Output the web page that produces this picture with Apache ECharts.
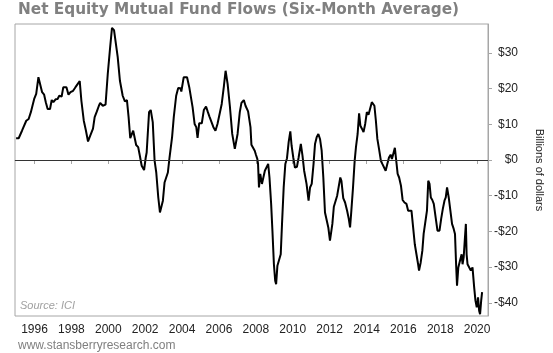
<!DOCTYPE html>
<html>
<head>
<meta charset="utf-8">
<script src="https://cdn.jsdelivr.net/npm/echarts@6/dist/echarts.min.js"></script>
<style>
  html, body { margin: 0; padding: 0; background: #fff; }
  #chart { width: 553px; height: 353px; }
</style>
</head>
<body>
<div id="chart"></div>
<script>
// six-month average of net equity mutual fund flows, billions of dollars
// x values are fractional years
var years = [
  1995.00, 1995.14, 1995.32, 1995.55, 1995.68, 1995.80, 1995.98, 1996.09, 1996.21, 1996.31,
  1996.41, 1996.52, 1996.61, 1996.71, 1996.84, 1996.93, 1997.02, 1997.14, 1997.25, 1997.34,
  1997.47, 1997.56, 1997.73, 1997.84, 1997.95, 1998.09, 1998.22, 1998.45, 1998.54, 1998.67,
  1998.78, 1998.90, 1999.02, 1999.17, 1999.26, 1999.38, 1999.49, 1999.56, 1999.70, 1999.85,
  1999.97, 2000.10, 2000.20, 2000.31, 2000.39, 2000.51, 2000.63, 2000.78, 2000.90, 2001.01,
  2001.10, 2001.19, 2001.28, 2001.35, 2001.44, 2001.51, 2001.62, 2001.71, 2001.81, 2001.94,
  2002.03, 2002.08, 2002.21, 2002.30, 2002.41, 2002.51, 2002.60, 2002.71, 2002.80, 2002.89,
  2002.96, 2003.05, 2003.14, 2003.23, 2003.32, 2003.41, 2003.46, 2003.55, 2003.68, 2003.79,
  2003.91, 2003.96, 2004.09, 2004.27, 2004.39, 2004.48, 2004.57, 2004.68, 2004.77, 2004.84,
  2004.93, 2005.07, 2005.18, 2005.30, 2005.40, 2005.49, 2005.57, 2005.70, 2005.81, 2005.92,
  2006.02, 2006.15, 2006.27, 2006.36, 2006.47, 2006.59, 2006.72, 2006.86, 2007.01, 2007.13,
  2007.22, 2007.35, 2007.44, 2007.58, 2007.71, 2007.76, 2007.85, 2007.94, 2008.01, 2008.08,
  2008.12, 2008.17, 2008.24, 2008.33, 2008.42, 2008.49, 2008.58, 2008.67, 2008.74, 2008.83,
  2008.90, 2008.98, 2009.05, 2009.10, 2009.17, 2009.26, 2009.35, 2009.42, 2009.51, 2009.60,
  2009.69, 2009.78, 2009.87, 2009.94, 2010.03, 2010.12, 2010.23, 2010.32, 2010.44, 2010.53,
  2010.62, 2010.75, 2010.86, 2010.94, 2011.03, 2011.13, 2011.21, 2011.30, 2011.39, 2011.48,
  2011.57, 2011.66, 2011.75, 2011.84, 2011.93, 2012.02, 2012.05, 2012.15, 2012.23, 2012.32,
  2012.41, 2012.50, 2012.58, 2012.64, 2012.74, 2012.84, 2012.95, 2013.04, 2013.11, 2013.18,
  2013.27, 2013.36, 2013.43, 2013.52, 2013.60, 2013.67, 2013.76, 2013.84, 2013.93, 2014.02,
  2014.11, 2014.20, 2014.29, 2014.38, 2014.43, 2014.51, 2014.59, 2014.68, 2014.78, 2014.86,
  2014.95, 2015.04, 2015.13, 2015.22, 2015.31, 2015.38, 2015.47, 2015.54, 2015.61, 2015.69,
  2015.77, 2015.87, 2015.96, 2016.06, 2016.17, 2016.26, 2016.35, 2016.44, 2016.53, 2016.62,
  2016.71, 2016.80, 2016.85, 2016.94, 2017.03, 2017.10, 2017.19, 2017.28, 2017.35, 2017.42,
  2017.49, 2017.57, 2017.65, 2017.75, 2017.85, 2017.96, 2018.05, 2018.14, 2018.23, 2018.30,
  2018.37, 2018.46, 2018.55, 2018.64, 2018.73, 2018.80, 2018.86, 2018.91, 2018.98, 2019.07,
  2019.16, 2019.21, 2019.27, 2019.34, 2019.39, 2019.43, 2019.48, 2019.57, 2019.66, 2019.75,
  2019.84, 2019.91, 2019.98, 2020.05, 2020.11, 2020.16, 2020.22, 2020.27
];
var flows = [
  6.1, 6.1, 8.2, 11.0, 11.5, 13.4, 17.1, 18.5, 23.2, 23.2,
  19.0, 18.3, 16.2, 14.3, 14.3, 16.8, 16.2, 17.0, 17.1, 18.0,
  17.8, 20.4, 20.4, 18.3, 19.0, 19.4, 20.4, 22.1, 16.6, 11.0,
  8.4, 5.2, 6.8, 8.8, 12.0, 13.6, 15.2, 16.0, 15.2, 15.5,
  24.1, 31.6, 37.0, 36.4, 36.3, 28.8, 22.2, 18.0, 16.4, 16.8,
  12.0, 6.1, 6.1, 8.2, 8.0, 4.2, 3.6, 1.2, -1.6, -2.8,
  0.7, 2.1, 13.4, 14.0, 10.6, -0.2, -3.5, -10.5, -14.7, -14.7,
  -11.4, -6.3, -6.5, -3.5, 0.7, 1.2, 6.5, 12.0, 18.0, 20.2,
  20.1, 19.2, 23.2, 23.2, 20.4, 19.9, 14.8, 10.1, 9.2, 6.2,
  10.3, 10.3, 14.0, 15.0, 13.4, 12.1, 11.8, 9.2, 8.2, 10.1,
  10.6, 15.7, 20.8, 25.0, 21.3, 15.2, 7.3, 3.1, 7.3, 13.4,
  16.0, 16.8, 15.2, 13.6, 9.2, 4.3, 4.0, 2.6, 1.4, 0.3,
  -1.1, -7.7, -3.9, -6.7, -6.5, -3.0, -2.7, -1.1, -4.9, -12.3,
  -19.8, -29.2, -33.8, -34.8, -29.6, -30.1, -26.4, -17.9, -7.7, -1.1,
  0.5, 5.0, 8.0, 4.0, 0.7, -2.1, -1.9, 0.7, 4.5, 1.2,
  -3.0, -6.7, -11.4, -7.7, -6.7, -1.1, 4.5, 6.4, 7.3, 5.9,
  2.6, -4.9, -14.7, -15.0, -18.9, -22.6, -23.1, -17.9, -13.1, -12.8,
  -10.0, -9.7, -4.9, -5.8, -10.7, -11.9, -14.2, -16.5, -18.9, -14.2,
  -7.7, -0.2, 3.6, 7.3, 13.1, 9.6, 8.7, 7.8, 10.1, 13.4,
  12.7, 12.9, 16.2, 15.9, 15.2, 11.0, 5.9, 3.1, -0.2, -1.1,
  -1.4, -3.0, -1.1, 0.7, 1.5, 0.3, 0.3, 3.4, 0.0, -3.9,
  -4.9, -7.2, -11.2, -11.9, -12.3, -14.2, -14.2, -14.2, -18.9, -23.6,
  -26.4, -29.2, -31.0, -28.7, -25.4, -20.7, -20.3, -14.2, -5.8, -6.7,
  -10.5, -11.2, -12.3, -16.1, -19.8, -19.8, -16.5, -13.7, -11.4, -10.5,
  -7.7, -10.5, -14.2, -17.9, -19.3, -20.7, -29.2, -35.2, -30.1, -28.2,
  -26.4, -29.2, -27.3, -21.7, -17.9, -26.4, -29.2, -29.2, -31.0, -30.1,
  -35.7, -39.4, -41.3, -38.5, -42.2, -43.2, -39.4, -37.0
];
var yearTicks = [1996, 1998, 2000, 2002, 2004, 2006, 2008, 2010, 2012, 2014, 2016, 2018, 2020];
var dollarTicks = [-40, -30, -20, -10, 0, 10, 20, 30];

var chart = echarts.init(document.getElementById('chart'));

var option = {
    animation: false,
    backgroundColor: '#fff',
    title: {
        text: 'Net Equity Mutual Fund Flows (Six-Month Average)',
        left: 18,
        top: 3,
        padding: 0,
        textStyle: {
            fontFamily: 'DejaVu Sans',
            fontWeight: 'bold',
            fontSize: 15.3,
            color: '#808080'
        }
    },
    grid: {
        left: 15,
        right: 60,
        top: 24,
        bottom: 37,
        show: true,
        borderColor: '#a6a6a6',
        borderWidth: 1
    },
    xAxis: {
        type: 'value',
        min: 1994.94,
        max: 2020.59,
        splitLine: {show: false},
        axisLine: {lineStyle: {color: '#a6a6a6'}},
        axisTick: {
            customValues: yearTicks,
            length: 4,
            lineStyle: {color: '#a6a6a6'}
        },
        axisLabel: {
            customValues: yearTicks,
            margin: 8,
            fontFamily: 'Liberation Sans',
            fontSize: 12,
            color: '#222',
            formatter: function (v) {
                return String(v);
            }
        }
    },
    yAxis: {
        type: 'value',
        position: 'right',
        min: -43.7,
        max: 38.1,
        name: 'Billions of dollars',
        nameLocation: 'middle',
        nameRotate: -90,
        nameGap: 46,
        nameTextStyle: {
            fontFamily: 'Liberation Sans',
            fontSize: 11,
            color: '#222'
        },
        splitLine: {show: false},
        axisLine: {show: true, lineStyle: {color: '#a6a6a6'}},
        axisTick: {
            customValues: dollarTicks,
            length: 4,
            lineStyle: {color: '#a6a6a6'}
        },
        axisLabel: {
            customValues: dollarTicks,
            align: 'right',
            margin: 30,
            fontFamily: 'Liberation Sans',
            fontSize: 12,
            color: '#222',
            formatter: function (v) {
                return (v < 0 ? '-$' : '$') + Math.abs(v);
            }
        }
    },
    graphic: [
        {
            type: 'text',
            left: 20,
            top: 300,
            style: {
                text: 'Source: ICI',
                font: 'italic 11px "Liberation Sans"',
                fill: '#a0a0a0'
            }
        },
        {
            type: 'text',
            left: 18,
            top: 340,
            style: {
                text: 'www.stansberryresearch.com',
                font: '12px "Liberation Sans"',
                fill: '#7f7f7f'
            }
        }
    ],
    series: [
        {
            type: 'line',
            data: years.map(function (y, i) { return [y, flows[i]]; }),
            showSymbol: false,
            lineStyle: {color: '#000', width: 2},
            markLine: {
                silent: true,
                symbol: 'none',
                label: {show: false},
                lineStyle: {color: '#333', width: 1.2, type: 'solid'},
                data: [{yAxis: 0}]
            }
        }
    ]
};

chart.setOption(option);
</script>
</body>
</html>
